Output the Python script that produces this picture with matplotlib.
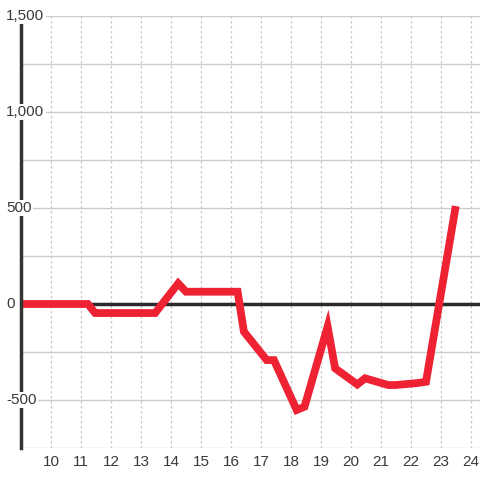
import numpy as np
import matplotlib
matplotlib.use("Agg")
import matplotlib.pyplot as plt
import matplotlib.transforms as mtransforms

# data
x_vals = [9.0, 11.23, 11.47, 13.47, 14.24, 14.5, 16.22, 16.43, 17.19, 17.43,
          18.19, 18.45, 19.22, 19.47, 20.21, 20.47, 21.24, 21.5, 22.2, 22.5, 23.47]
y_vals = [0, 0, -47, -47, 107, 64, 64, -144, -292, -292,
          -552, -535, -118, -335, -419, -387, -422, -422, -412, -405, 490]

x_ticks = list(range(10, 25))
y_major = [-500, 0, 500, 1000, 1500]
y_grid = [-750, -500, -250, 250, 500, 750, 1000, 1250, 1500]

plt.rcParams['font.family'] = ['Liberation Sans', 'DejaVu Sans']

fig = plt.figure(figsize=(4.8, 4.8), dpi=100)
fig.patch.set_facecolor('white')
ax = fig.add_axes([21 / 480, 32 / 480, 459 / 480, 432 / 480])
ax.set_xlim(9.0, 24.3)
ax.set_ylim(-750, 1500)

for s in ['top', 'right', 'bottom']:
    ax.spines[s].set_visible(False)
ax.spines['left'].set_linewidth(2.5)
ax.spines['left'].set_color('#333333')
ax.spines['left'].set_zorder(4)

# grids
for v in y_grid:
    ax.axhline(v, color='#cccccc', lw=1, zorder=1)
for t in x_ticks:
    ax.axvline(t, color='#c8c8c8', lw=0.9, ls=(0, (2, 2)), zorder=1)
ax.axhline(0, color='#2b2b2b', lw=2.5, zorder=2)

ax.plot(x_vals, y_vals, color='#ee2233', lw=5.6, solid_joinstyle='miter', zorder=3)

ax.set_xticks(x_ticks)
ax.set_xticklabels([str(t) for t in x_ticks], fontsize=11, color='#3a3a3a')
ax.tick_params(axis='x', length=0, pad=5)
ax.set_yticks([])

trans = mtransforms.blended_transform_factory(fig.transFigure, ax.transData)
for v in y_major:
    ax.text(6 / 480, v, f"{v:,}", transform=trans, ha='left', va='center',
            fontsize=11, color='#3a3a3a', zorder=6,
            bbox=dict(facecolor='white', edgecolor='none', pad=1))

fig.savefig('out.png', dpi=100, facecolor='white')
